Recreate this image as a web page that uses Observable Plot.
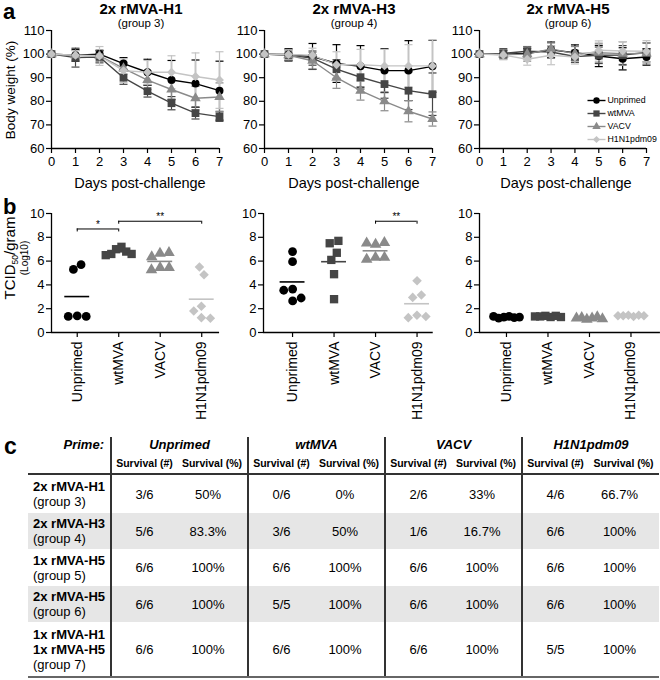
<!DOCTYPE html>
<html><head><meta charset="utf-8">
<script src="https://cdn.jsdelivr.net/npm/d3@7"></script>
<script src="https://cdn.jsdelivr.net/npm/@observablehq/plot@0.6"></script>
<style>
body{margin:0;background:#fff;font-family:"Liberation Sans",Arial,Helvetica,sans-serif;color:#000;}
#fig{position:relative;width:660px;height:680px;overflow:hidden;background:#fff;}
#tbl{position:absolute;left:28px;top:437px;border-collapse:collapse;table-layout:fixed;width:631px;font-size:13px;}
#tbl td,#tbl th{padding:0;text-align:center;vertical-align:middle;overflow:visible;white-space:nowrap;}
#tbl .g{border-left:2px solid #333;}
#tbl tr.h1 th{font-style:italic;font-weight:bold;font-size:13px;height:15px;}
#tbl tr.h2 th{border-bottom:2px solid #333;font-size:10.5px;font-weight:bold;height:21px;}
#tbl tr.alt td{background:#e6e6e6;}
#tbl tr.last td{border-bottom:2px solid #666;}
#tbl td.lab{text-align:left;padding-left:5px;line-height:15px;}
#tbl th.prime{text-align:right;padding-right:6px;}
#tbl td.pct{padding-right:8px;}
</style></head>
<body><div id="fig"></div>
<script>
// ---------------- DATA ----------------
const primes = ["Unprimed", "wtMVA", "VACV", "H1N1pdm09"];
const days = [0, 1, 2, 3, 4, 5, 6, 7];
const weightTicks = [60, 70, 80, 90, 100, 110];
const titerTicks = [0, 2, 4, 6, 8, 10];
const groupTitles = ["2x rMVA-H1", "2x rMVA-H3", "2x rMVA-H5"];
const groupLabels = ["(group 3)", "(group 4)", "(group 6)"];

// body weight (%) means, rows = primes, columns = days 0..7
const weightG3 = [
  [100, 99.5, 100, 96, 92.3, 89, 87.5, 84.5],
  [100, 98.5, 98.8, 90, 84.3, 79.2, 75, 73.5],
  [100, 99.5, 99.3, 94, 89, 85, 81.3, 81.8],
  [100, 99.5, 99.2, 93, 92.3, 92.3, 90.5, 89]
];
const weightSdG3 = [
  [0, 2.5, 1.5, 2.5, 5.5, 8.3, 10, 12.5],
  [0, 4, 2.5, 2.8, 2.5, 2.8, 2.5, 2],
  [0, 2, 2.5, 2.5, 4, 4, 5, 6],
  [0, 2, 4, 5, 5, 7, 10, 12]
];
const weightG4 = [
  [100, 99.8, 99, 96, 94.8, 93, 93, 94.8],
  [100, 99.5, 98.3, 93.6, 90.2, 87.3, 84.5, 83],
  [100, 99.5, 97.2, 90, 84.5, 80, 75.8, 72.5],
  [100, 99.8, 99.5, 95.5, 95.5, 95, 95, 95]
];
const weightSdG4 = [
  [0, 2.5, 5.5, 8, 8.8, 9.3, 12.7, 11],
  [0, 2.5, 3, 4, 5, 6, 8, 9],
  [0, 2, 3.5, 4.5, 4, 4, 4.5, 3],
  [0, 2, 3, 5.5, 6.5, 7, 9, 11]
];
const weightG6 = [
  [100, 100, 100.3, 101.8, 100.6, 99.2, 98, 98.8],
  [100, 100.3, 101.2, 100.9, 99, 99.5, 99.6, 100.7],
  [100, 99.8, 100, 102.2, 100.2, 100.6, 100.2, 100.3],
  [100, 99.6, 97.8, 99.5, 98.8, 101.6, 101.3, 101.2]
];
const weightSdG6 = [
  [0, 1.5, 2, 3.3, 3.3, 4.5, 4.7, 3.5],
  [0, 2, 2, 2.5, 2.5, 3.5, 4, 4],
  [0, 2, 3, 2.5, 3, 4, 5, 4.5],
  [0, 2, 2.5, 4, 3, 4, 4, 4.5]
];

// lung titers TCID50/gram (log10), per prime
const titerG3 = [
  [5.7, 5.3, 1.4, 1.35, 1.35],
  [7.2, 7.0, 6.8, 6.6, 6.6, 6.5],
  [6.65, 6.35, 6.7, 5.45, 5.25, 5.45],
  [4.85, 5.5, 2.2, 1.8, 1.25, 1.2]
];
const titerG4 = [
  [5.95, 6.8, 3.65, 3.55, 2.65, 2.9],
  [7.7, 7.5, 6.7, 6.1, 4.9, 2.8],
  [7.4, 7.5, 7.55, 6.3, 6.15, 6.3],
  [4.35, 3.15, 2.95, 1.45, 1.25, 1.35]
];
const titerG6 = [
  [1.35, 1.3, 1.25, 1.2, 1.3, 1.35],
  [1.4, 1.35, 1.3, 1.4, 1.35, 1.3],
  [1.2, 1.1, 1.3, 1.15, 1.25, 1.2],
  [1.45, 1.4, 1.35, 1.45, 1.4, 1.4]
];
// significance brackets: [fromIndex, toIndex, level, label]
const sigG3 = [[0, 1, 8.7, "*"], [1, 3, 9.35, "**"]];
const sigG4 = [[2, 3, 9.35, "**"]];
const sigG6 = [];

// survival table
const rowLabels = [["2x rMVA-H1"], ["2x rMVA-H3"], ["1x rMVA-H5"], ["2x rMVA-H5"], ["1x rMVA-H1", "1x rMVA-H5"]];
const rowGroups = ["(group 3)", "(group 4)", "(group 5)", "(group 6)", "(group 7)"];
const survivalCount = [
  ["3/6", "0/6", "2/6", "4/6"],
  ["5/6", "3/6", "1/6", "6/6"],
  ["6/6", "6/6", "6/6", "6/6"],
  ["6/6", "5/5", "6/6", "6/6"],
  ["6/6", "6/6", "6/6", "5/5"]
];
const survivalPct = [
  ["50%", "0%", "33%", "66.7%"],
  ["83.3%", "50%", "16.7%", "100%"],
  ["100%", "100%", "100%", "100%"],
  ["100%", "100%", "100%", "100%"],
  ["100%", "100%", "100%", "100%"]
];

const weightMeans = [weightG3, weightG4, weightG6];
const weightSds = [weightSdG3, weightSdG4, weightSdG6];
const titers = [titerG3, titerG4, titerG6];
const sigs = [sigG3, sigG4, sigG6];

// ---------------- STYLE / LAYOUT ----------------
const FONT = '"Liberation Sans", Arial, Helvetica, sans-serif';
const colors = ["#000000", "#454545", "#8a8a8a", "#c4c4c4"];
const symbolNames = ["circle", "square", "triangle", "diamond2"];
const rA = [4, 4.4, 3.9, 4];
const rB = [4.4, 4.7, 4.3, 4.3];
const capSymbol = {draw(ctx, size) { const w = Math.sqrt(size / Math.PI); ctx.moveTo(-w, 0); ctx.lineTo(w, 0); }};
const baseStyle = {fontFamily: FONT, fontSize: "13px", color: "#000", background: "transparent", overflow: "visible"};

const fig = document.getElementById("fig");
function place(el, left, top) {
  el.style.position = "absolute"; el.style.left = left + "px"; el.style.top = top + "px";
  el.style.maxWidth = "none";
  fig.appendChild(el);
}

const layoutA = [
  {left: 0, width: 225, marginLeft: 51, marginRight: 6},
  {left: 225, width: 215, marginLeft: 39, marginRight: 8},
  {left: 440, width: 220, marginLeft: 39, marginRight: 14}
];

function weightPlot(gi) {
  const L = layoutA[gi];
  const M = weightMeans[gi], S = weightSds[gi];
  const rows = primes.flatMap((p, si) => days.map((d, di) => ({si, day: d, mean: M[si][di], sd: S[si][di]})));
  const err = [], lines = [], dots = [];
  primes.forEach((p, si) => {
    const all = rows.filter(r => r.si === si);
    const e = all.filter(r => r.sd > 0);
    const c = colors[si];
    err.push(
      Plot.ruleX(e, {x: "day", y1: r => r.mean - r.sd, y2: r => r.mean + r.sd, stroke: c, strokeWidth: 1.2}),
      Plot.dot(e, {x: "day", y: r => r.mean + r.sd, symbol: capSymbol, r: 4, stroke: c, fill: "none", strokeWidth: 1.2}),
      Plot.dot(e, {x: "day", y: r => r.mean - r.sd, symbol: capSymbol, r: 4, stroke: c, fill: "none", strokeWidth: 1.2})
    );
    lines.push(Plot.line(all, {x: "day", y: "mean", stroke: c, strokeWidth: 1.4}));
    dots.push(Plot.dot(all, {x: "day", y: "mean", symbol: symbolNames[si], r: rA[si], fill: c, stroke: "none"}));
  });
  return Plot.plot({
    width: L.width, height: 200,
    marginLeft: L.marginLeft, marginRight: L.marginRight, marginTop: 30, marginBottom: 52,
    style: baseStyle,
    x: {domain: [0, 7]}, y: {domain: [60, 110]},
    marks: [
      Plot.ruleX([0], {stroke: "#000", strokeWidth: 1.3}),
      Plot.ruleY([60], {stroke: "#000", strokeWidth: 1.3}),
      Plot.axisX({ticks: days, tickFormat: d => String(d), tickSize: 5, tickPadding: 3, fontSize: 13, label: null, strokeWidth: 1.2}),
      Plot.axisY({ticks: weightTicks, tickFormat: d => String(d), tickSize: 5, tickPadding: 2, fontSize: 13, label: null, strokeWidth: 1.2}),
      ...err, ...lines, ...dots
    ]
  });
}

const pxPerCat = 41.5;
const plotBHeight = 240, bTop = 23, bBottom = 98;
const pxPerY = (plotBHeight - bTop - bBottom) / 10;
const layoutB = [
  {left: 0, width: 230, marginLeft: 51, xDomain: [-0.62, 3.43]},
  {left: 225, width: 215, marginLeft: 38, xDomain: [-0.70, 3.39]},
  {left: 440, width: 220, marginLeft: 39, xDomain: [-0.65, 3.71]}
];

// simple dodge: place points side by side when they overlap, centered per cluster
function swarm(values, diam, maxHalf) {
  const placed = [];
  for (const v of values) {
    const yp = v * pxPerY;
    const cands = [0];
    for (const q of placed) {
      const dy = Math.abs(q.y - yp);
      if (dy < diam) { const dx = Math.sqrt(diam * diam - dy * dy); cands.push(q.x - dx, q.x + dx); }
    }
    cands.sort((a, b) => Math.abs(a) - Math.abs(b) || a - b);
    const best = cands.find(c => placed.every(q => (q.x - c) ** 2 + (q.y - yp) ** 2 >= diam * diam - 1e-6));
    placed.push({y: yp, x: best ?? 0});
  }
  const n = placed.length, comp = new Array(n).fill(-1);
  let k = 0;
  for (let i = 0; i < n; i++) {
    if (comp[i] >= 0) continue;
    const stack = [i]; comp[i] = k;
    while (stack.length) {
      const a = stack.pop();
      for (let j = 0; j < n; j++) if (comp[j] < 0 && Math.abs(placed[a].y - placed[j].y) < diam) { comp[j] = k; stack.push(j); }
    }
    k++;
  }
  for (let c = 0; c < k; c++) {
    const idx = d3.range(n).filter(i => comp[i] === c);
    const m = d3.mean(idx, i => placed[i].x);
    idx.forEach(i => placed[i].x -= m);
  }
  const mx = d3.max(placed, p => Math.abs(p.x)) || 0;
  const s = mx > maxHalf ? maxHalf / mx : 1;
  return placed.map(p => p.x * s / pxPerCat);
}

function titerPlot(gi) {
  const L = layoutB[gi];
  const mR = L.width - L.marginLeft - (L.xDomain[1] - L.xDomain[0]) * pxPerCat;
  const T = titers[gi];
  const dots = [], means = [];
  primes.forEach((p, si) => {
    const off = swarm(T[si], 9, 13);
    const data = T[si].map((v, j) => ({x: si + off[j], v}));
    dots.push(Plot.dot(data, {x: "x", y: "v", symbol: symbolNames[si], r: rB[si], fill: colors[si], stroke: "none"}));
    means.push(Plot.ruleY([{i: si, m: d3.mean(T[si])}], {x1: d => d.i - 0.3, x2: d => d.i + 0.3, y: "m", stroke: colors[si], strokeWidth: 1.6}));
  });
  const sig = sigs[gi].map(([from, to, level, label]) => ({from, to, level, label}));
  const ends = sig.flatMap(s => [{x: s.from, level: s.level}, {x: s.to, level: s.level}]);
  return Plot.plot({
    width: L.width, height: plotBHeight,
    marginLeft: L.marginLeft, marginRight: mR, marginTop: bTop, marginBottom: bBottom,
    style: baseStyle,
    x: {domain: L.xDomain}, y: {domain: [0, 10]},
    marks: [
      Plot.ruleX([L.xDomain[0]], {stroke: "#000", strokeWidth: 1.3}),
      Plot.ruleY([0], {stroke: "#000", strokeWidth: 1.3}),
      Plot.axisX({ticks: [0, 1, 2, 3], tickFormat: i => primes[i], tickRotate: -90, tickSize: 5, tickPadding: 4, fontSize: 14, label: null, strokeWidth: 1.2}),
      Plot.axisY({ticks: titerTicks, tickFormat: d => String(d), tickSize: 5, tickPadding: 2, fontSize: 13, label: null, strokeWidth: 1.2}),
      ...dots, ...means,
      Plot.ruleY(sig, {x1: "from", x2: "to", y: "level", stroke: "#000", strokeWidth: 1}),
      Plot.ruleX(ends, {x: "x", y1: d => d.level - 0.25, y2: "level", stroke: "#000", strokeWidth: 1}),
      Plot.text(sig, {x: d => (d.from + d.to) / 2, y: "level", text: "label", lineAnchor: "bottom", dy: -1, fontSize: 10})
    ]
  });
}

function legendPlot() {
  const marks = [];
  primes.forEach((p, si) => {
    marks.push(
      Plot.link([p], {x1: () => 0, x2: () => 1, y1: d => d, y2: d => d, stroke: colors[si], strokeWidth: 1.4}),
      Plot.dot([p], {x: () => 0.5, y: d => d, symbol: symbolNames[si], r: rA[si] * 0.8, fill: colors[si], stroke: "none"}),
      Plot.text([p], {x: () => 1, y: d => d, text: d => d, textAnchor: "start", dx: 2, fontSize: 8.8})
    );
  });
  return Plot.plot({
    width: 74, height: 55, marginLeft: 3, marginRight: 53, marginTop: 8, marginBottom: 8,
    style: baseStyle,
    x: {domain: [0, 1], axis: null},
    y: {type: "point", domain: primes, padding: 0, axis: null},
    marks
  });
}

layoutA.forEach((L, gi) => place(weightPlot(gi), L.left, 0));
place(legendPlot(), 584, 92);
layoutB.forEach((L, gi) => place(titerPlot(gi), L.left, 190));

// ---------------- TEXT OVERLAY ----------------
const svg = d3.create("svg").attr("width", 660).attr("height", 680)
  .style("position", "absolute").style("left", "0px").style("top", "0px").style("pointer-events", "none")
  .attr("font-family", FONT);
function txt(x, y, s, opts = {}) {
  return svg.append("text").attr("x", x).attr("y", y).text(s)
    .attr("font-size", opts.size || 13).attr("text-anchor", opts.anchor || "start")
    .attr("font-weight", opts.bold ? "bold" : null);
}
txt(3, 19, "a", {size: 22, bold: true});
txt(3, 214, "b", {size: 22, bold: true});
const titleX = [141, 354, 568];
const daysX = [140, 354, 566];
titleX.forEach((x, i) => {
  txt(x, 14, groupTitles[i], {size: 15, bold: true, anchor: "middle"});
  txt(x, 27, groupLabels[i], {size: 11.5, anchor: "middle"});
  txt(daysX[i], 188, "Days post-challenge", {size: 14.5, anchor: "middle"});
});
svg.append("text").attr("transform", "translate(15,90) rotate(-90)").attr("text-anchor", "middle")
  .attr("font-size", 13.5).text("Body weight (%)");
const tl = svg.append("text").attr("transform", "translate(15,258) rotate(-90)").attr("text-anchor", "middle").attr("font-size", 15);
tl.append("tspan").text("TCID");
tl.append("tspan").attr("font-size", 8.5).attr("dy", 2.5).text("50");
tl.append("tspan").attr("dy", -2.5).text("/gram");
svg.append("text").attr("transform", "translate(28,258) rotate(-90)").attr("text-anchor", "middle")
  .attr("font-size", 10).text("(Log10)");
txt(4, 454, "c", {size: 23, bold: true});
fig.appendChild(svg.node());

// ---------------- TABLE ----------------
const tbl = document.createElement("table");
tbl.id = "tbl";
let h = '<colgroup><col style="width:83px">' + primes.map(() => '<col style="width:66px"><col style="width:71px">').join("") + '</colgroup>';
h += '<tr class="h1"><th class="prime">Prime:</th>' + primes.map(p => `<th colspan="2" class="g">${p}</th>`).join("") + '</tr>';
h += '<tr class="h2"><th></th>' + primes.map(() => '<th class="g">Survival (#)</th><th>Survival (%)</th>').join("") + '</tr>';
const rowHeights = [39, 36, 37, 36, 55];
rowLabels.forEach((lab, ri) => {
  const cls = (ri % 2 === 1 ? "alt" : "") + (ri === rowLabels.length - 1 ? " last" : "");
  h += `<tr class="${cls}" style="height:${rowHeights[ri]}px"><td class="lab">` + lab.map(l => `<b>${l}</b><br>`).join("") + rowGroups[ri] + '</td>';
  primes.forEach((p, ci) => { h += `<td class="g">${survivalCount[ri][ci]}</td><td class="pct">${survivalPct[ri][ci]}</td>`; });
  h += '</tr>';
});
tbl.innerHTML = h;
fig.appendChild(tbl);
</script>
</body></html>
